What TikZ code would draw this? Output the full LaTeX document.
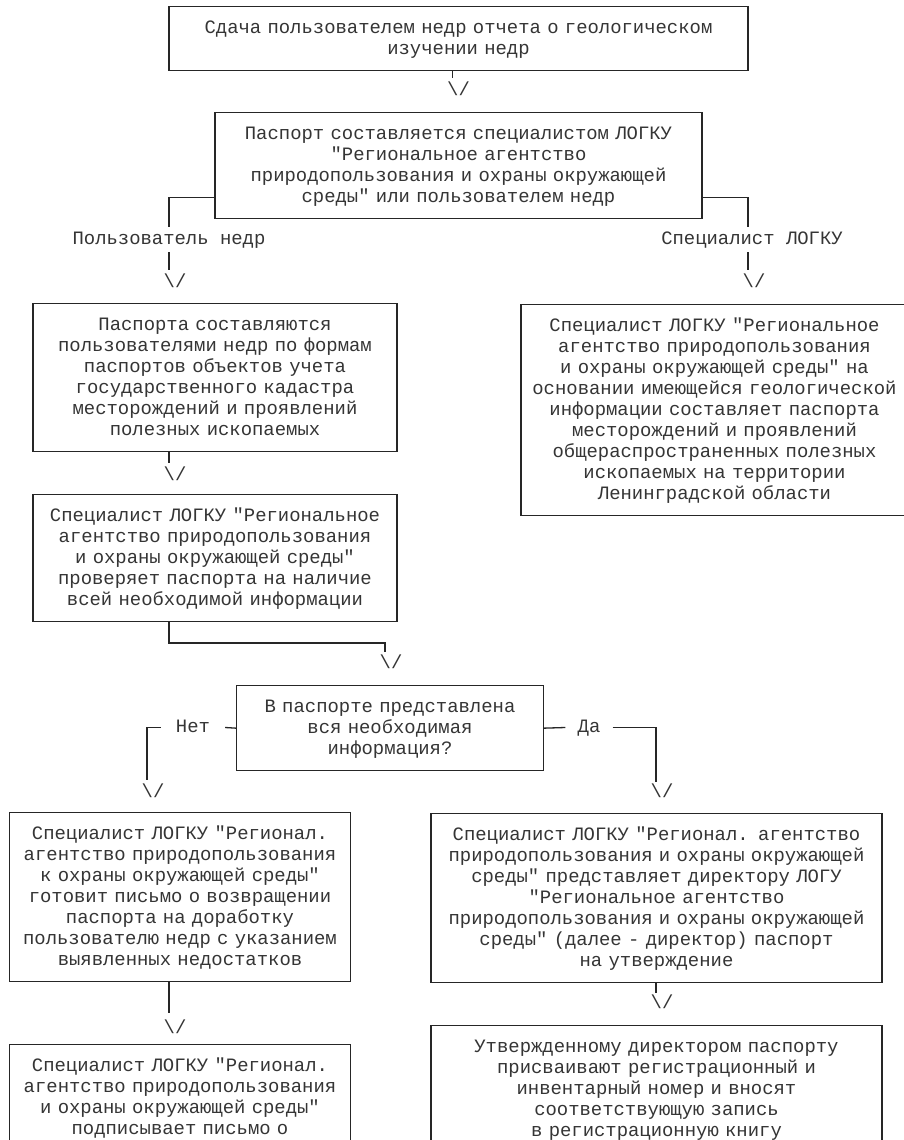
\documentclass[tikz,border=0pt]{standalone}
\usepackage{fontspec}
\setmainfont[Ligatures=TeXOff]{Liberation Mono}
\newcommand\fsz{\fontsize{18.9pt}{21pt}\selectfont}
\definecolor{linec}{HTML}{262626}
\definecolor{textc}{HTML}{353535}
\tikzset{
  box/.style={draw=linec, line width=1.3pt, text=textc, align=center,
    inner xsep=0pt, inner ysep=11pt, anchor=north, font=\fsz,
    execute at begin node={\rule{0pt}{16pt}},
    execute at end node={\rule[-5pt]{0pt}{5pt}}},
  cutbox/.style={box, execute at end node={\rule[-80pt]{0pt}{80pt}}},
  conn/.style={draw=linec, line width=1.3pt},
  lbl/.style={text=textc, font=\fsz, inner ysep=0pt, inner xsep=0pt, text height=12pt, text depth=2pt},
  arr/.style={text=textc, font=\fsz, inner sep=0pt, text height=12pt, text depth=2pt},
}
\begin{document}
\begin{tikzpicture}[x=1pt,y=-1pt]
\fill[white] (0,0) rectangle (904,1140);
\useasboundingbox (0,0) rectangle (904,1140);

% boxes
\node[box, text width=577pt, minimum width=579pt] (n1) at (458.5,6)
  {Сдача пользователем недр отчета о геологическом\\изучении недр};
\node[box, text width=485pt, minimum width=487pt] (n2) at (458.5,112)
  {Паспорт составляется специалистом ЛОГКУ\\"Региональное агентство\\природопользования и охраны окружающей\\среды" или пользователем недр};
\node[box, text width=362pt, minimum width=364pt] (n3) at (215,303)
  {Паспорта составляются\\пользователями недр по формам\\паспортов объектов учета\\государственного кадастра\\месторождений и проявлений\\полезных ископаемых};
\node[box, text width=385pt, minimum width=387pt] (n4) at (714.5,304)
  {Специалист ЛОГКУ "Региональное\\агентство природопользования\\и охраны окружающей среды" на\\основании имеющейся геологической\\информации составляет паспорта\\месторождений и проявлений\\общераспространенных полезных\\ископаемых на территории\\Ленинградской области};
\node[box, text width=362pt, minimum width=364pt] (n5) at (215,494)
  {Специалист ЛОГКУ "Региональное\\агентство природопользования\\и охраны окружающей среды"\\проверяет паспорта на наличие\\всей необходимой информации};
\node[box, text width=305pt, minimum width=307pt] (n6) at (390,685)
  {В паспорте представлена\\вся необходимая\\информация?};
\node[box, text width=338.5pt, minimum width=340.5pt] (n7) at (180,812)
  {Специалист ЛОГКУ "Регионал.\\агентство природопользования\\к охраны окружающей среды"\\готовит письмо о возвращении\\паспорта на доработку\\пользователю недр с указанием\\выявленных недостатков};
\node[box, text width=449pt, minimum width=451pt] (n8) at (656.5,813)
  {Специалист ЛОГКУ "Регионал. агентство\\природопользования и охраны окружающей\\среды" представляет директору ЛОГУ\\"Региональное агентство\\природопользования и охраны окружающей\\среды" (далее - директор) паспорт\\на утверждение};
\node[cutbox, text width=338.5pt, minimum width=340.5pt] (n9) at (180,1044)
  {Специалист ЛОГКУ "Регионал.\\агентство природопользования\\и охраны окружающей среды"\\подписывает письмо о};
\node[cutbox, text width=449pt, minimum width=451pt] (n10) at (656.5,1025)
  {Утвержденному директором паспорту\\присваивают регистрационный и\\инвентарный номер и вносят\\соответствующую запись\\в регистрационную книгу};

% labels
\node[lbl] (lblL) at (169,239) {Пользователь недр};
\node[lbl] (lblR) at (752,239) {Специалист ЛОГКУ};
\node[lbl, inner xsep=15pt] (lblNo) at (193,727.5) {Нет};
\node[lbl, inner xsep=12pt] (lblYes) at (589,727.5) {Да};

% arrow heads
\node[arr] (a1) at (458.5,90) {\textbackslash/};
\node[arr] (aL) at (175,282) {\textbackslash/};
\node[arr] (aR) at (754,282) {\textbackslash/};
\node[arr] (a3) at (175,475) {\textbackslash/};
\node[arr] (a5) at (391,663) {\textbackslash/};
\node[arr] (aNo) at (153,792) {\textbackslash/};
\node[arr] (aYes) at (662,792) {\textbackslash/};
\node[arr] (a7) at (175,1028) {\textbackslash/};
\node[arr] (a8) at (662,1003) {\textbackslash/};

% connector ends
\coordinate (e1) at (452.6,78);
\coordinate (eL1) at (169,227);
\coordinate (eL2) at (169,252);
\coordinate (eL3) at (169,270);
\coordinate (eR1) at (748,227);
\coordinate (eR2) at (748,252);
\coordinate (eR3) at (748,270);
\coordinate (e3) at (169,463);
\coordinate (k1) at (169,643);
\coordinate (k2) at (385,652);
\coordinate (eNo) at (147,780);
\coordinate (eYes) at (656,782);
\coordinate (e7) at (169,1013);
\coordinate (e8) at (656,993);

% connectors
\draw[conn] (n1.south -| e1) -- (e1);
\draw[conn] ([yshift=22pt]n2.south west) -| (eL1);
\draw[conn] ([yshift=22pt]n2.south east) -| (eR1);
\draw[conn] (eL2) -- (eL3);
\draw[conn] (eR2) -- (eR3);
\draw[conn] (n3.south -| e3) -- (e3);
\draw[conn] (n5.south -| k1) -- (k1) -| (k2);
\draw[conn] (n6.west) -- (lblNo.east);
\draw[conn] (lblNo.west) -| (eNo);
\draw[conn] (n6.east) -- (lblYes.west);
\draw[conn] (lblYes.east) -| (eYes);
\draw[conn] (n7.south -| e7) -- (e7);
\draw[conn] (n8.south -| e8) -- (e8);
\end{tikzpicture}
\end{document}
